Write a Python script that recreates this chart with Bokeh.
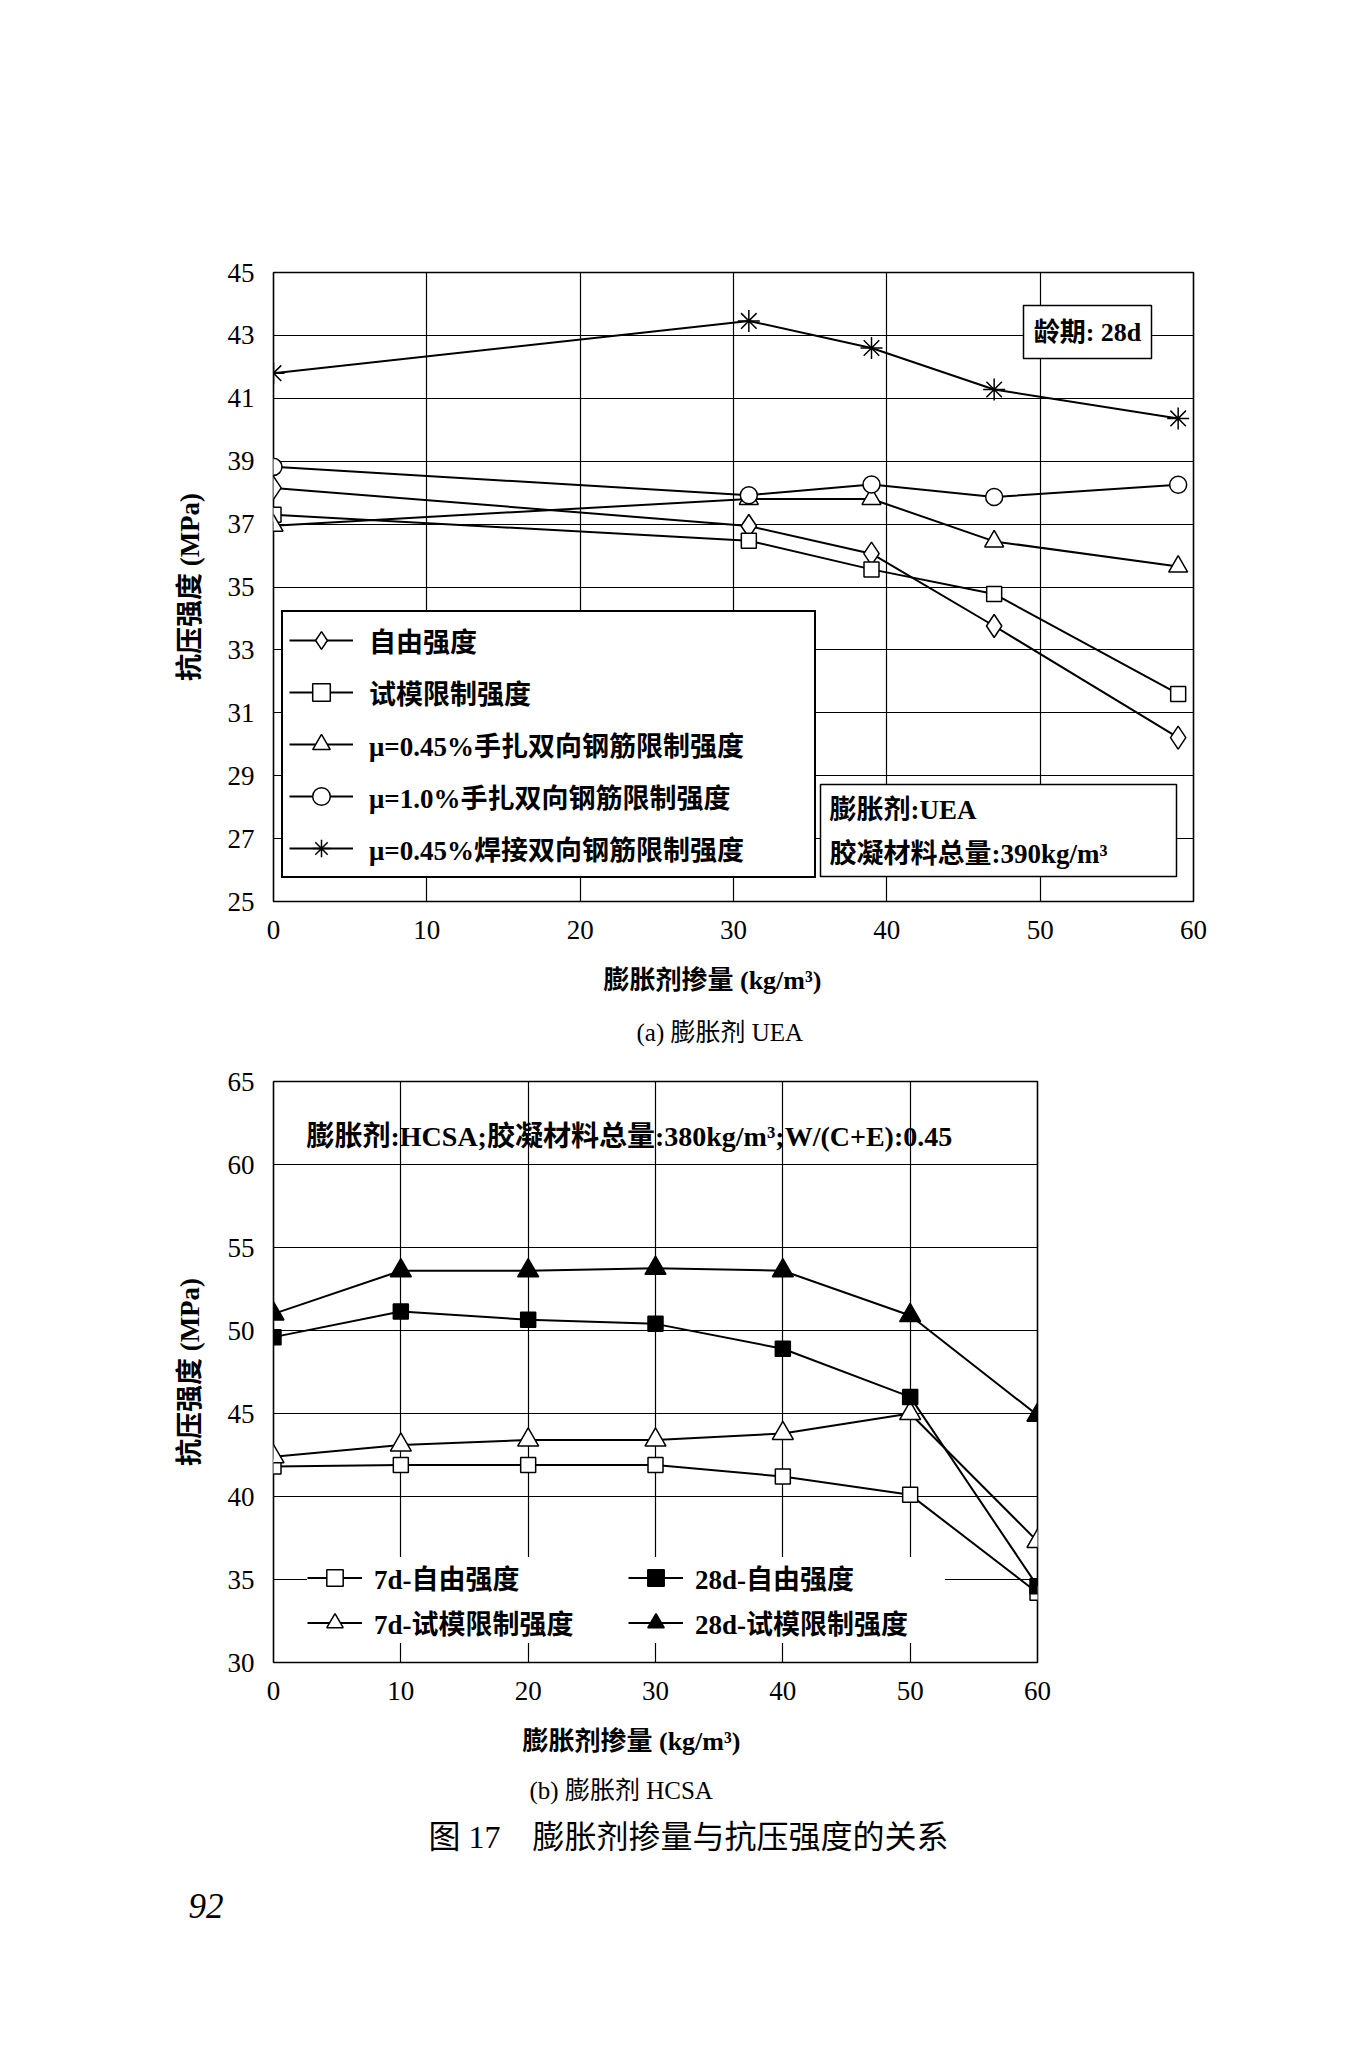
import math
from bokeh.plotting import figure
from bokeh.models import Legend, LegendItem, Label, BoxAnnotation, FixedTicker, Range1d, Title
from bokeh.layouts import column
from bokeh.embed import file_html
from bokeh.resources import INLINE

SERIF = "Liberation Serif"
MIX = "Liberation Serif, Noto Sans CJK SC"

# ---------------- data: (a) UEA ----------------
uea_x = [0, 31, 39, 47, 59]
uea_free = [38.15, 36.94, 36.06, 33.76, 30.21]
uea_mold = [37.3, 36.47, 35.56, 34.78, 31.6]
uea_tie045 = [36.95, 37.8, 37.8, 36.45, 35.65]
uea_tie10 = [38.82, 37.92, 38.26, 37.86, 38.25]
uea_weld045 = [41.8, 43.46, 42.6, 41.28, 40.36]
uea_labels = ["自由强度", "试模限制强度", "μ=0.45%手扎双向钢筋限制强度",
              "μ=1.0%手扎双向钢筋限制强度", "μ=0.45%焊接双向钢筋限制强度"]
uea_xticks = [0, 10, 20, 30, 40, 50, 60]
uea_yticks = [25, 27, 29, 31, 33, 35, 37, 39, 41, 43, 45]

# ---------------- data: (b) HCSA ----------------
hcsa_x = [0, 10, 20, 30, 40, 50, 60]
d7_free = [41.8, 41.9, 41.9, 41.9, 41.2, 40.1, 34.2]
d28_free = [49.6, 51.15, 50.65, 50.4, 48.9, 46.0, 34.6]
d7_mold = [42.4, 43.1, 43.4, 43.4, 43.8, 45.0, 37.3]
d28_mold = [51.0, 53.6, 53.6, 53.75, 53.6, 50.9, 44.9]
hcsa_labels = ["7d-自由强度", "7d-试模限制强度", "28d-自由强度", "28d-试模限制强度"]
hcsa_xticks = [0, 10, 20, 30, 40, 50, 60]
hcsa_yticks = [30, 35, 40, 45, 50, 55, 60, 65]


def style(p, xt, yt):
    p.outline_line_color = "black"
    p.outline_line_width = 1.6
    p.outline_line_alpha = 1.0
    p.background_fill_color = "white"
    p.border_fill_color = "white"
    for g in (p.xgrid, p.ygrid):
        g.grid_line_color = "black"
        g.grid_line_width = 1.2
        g.grid_line_alpha = 1.0
    p.xaxis.ticker = FixedTicker(ticks=xt)
    p.yaxis.ticker = FixedTicker(ticks=yt)
    for ax in (p.xaxis, p.yaxis):
        ax.axis_line_color = None
        ax.major_tick_line_color = None
        ax.minor_tick_line_color = None
        ax.major_label_text_font = SERIF
        ax.major_label_text_font_size = "27px"
        ax.major_label_text_color = "black"
        ax.axis_label_text_font = MIX
        ax.axis_label_text_font_size = "27px"
        ax.axis_label_text_font_style = "bold"
        ax.axis_label_text_color = "black"
    p.xaxis.major_label_standoff = 13
    p.yaxis.major_label_standoff = 13
    p.yaxis.axis_label = "抗压强度 (MPa)"
    p.yaxis.axis_label_standoff = 20


def lab(p, xy, text, size="27px", font=MIX, style_="bold", align="center",
        baseline="middle"):
    p.add_layout(Label(x=xy[0], y=xy[1], text=text, text_font=font,
                       text_font_size=size, text_font_style=style_,
                       text_align=align, text_baseline=baseline,
                       text_color="black"))


def below_title(p, text, size, style_, standoff, offset, font=MIX):
    p.add_layout(Title(text=text, align="left", offset=offset, standoff=standoff,
                       text_font=font, text_font_size=size, text_font_style=style_,
                       text_color="black"), "below")


def box(p, l, t, r, b, lw):
    p.add_layout(BoxAnnotation(left=l, right=r, top=t, bottom=b, fill_color="white",
                               fill_alpha=1.0, line_color="black", line_alpha=1.0,
                               line_width=lw))


# ================= figure (a) =================
p1 = figure(width=1357, height=1058, frame_width=920, frame_height=629,
            min_border_left=273, min_border_right=164, min_border_top=272,
            min_border_bottom=157, x_range=Range1d(0, 60), y_range=Range1d(25, 45),
            output_backend="svg", toolbar_location=None)
style(p1, uea_xticks, uea_yticks)


def t_xy(px, py):
    return ((px - 273) / 920 * 60, 45 - (py - 272) / 629 * 20)


series_a = [
    (uea_free, "diamond", "white", 23),
    (uea_mold, "square", "white", 15),
    (uea_tie045, "triangle", "white", 19),
    (uea_tie10, "circle", "white", 17),
    (uea_weld045, "asterisk", "white", 22),
]
items_a = []
for (ys, mk, fc, sz), lbl in zip(series_a, uea_labels):
    rl = p1.line(uea_x, ys, line_color="black", line_width=2)
    rs = p1.scatter(uea_x, ys, marker=mk, size=sz, line_color="black",
                    fill_color=fc, line_width=1.5)
    items_a.append(LegendItem(label=lbl, renderers=[rl, rs]))

leg_a = Legend(items=items_a, location=(8, 23), margin=0, padding=6, spacing=8,
               glyph_width=64, glyph_height=44, label_height=44, label_width=439,
               label_standoff=16, border_line_color="black", border_line_width=2.5,
               border_line_alpha=1.0,
               background_fill_color="white", background_fill_alpha=1.0,
               label_text_font=MIX, label_text_font_size="27px",
               label_text_font_style="bold", label_text_color="black")
p1.add_layout(leg_a)

# 龄期 box
l, t = t_xy(1023, 305)
r, b = t_xy(1151, 358)
box(p1, l, t, r, b, 1.5)
lab(p1, t_xy(1087, 332), "龄期: 28d", size="26px")

# UEA box
l, t = t_xy(820, 784)
r, b = t_xy(1176, 876)
box(p1, l, t, r, b, 1.5)
lab(p1, t_xy(829, 809), "膨胀剂:UEA", align="left")
lab(p1, t_xy(829, 853), "胶凝材料总量:390kg/m³", align="left")

below_title(p1, "膨胀剂掺量 (kg/m³)", "26px", "bold", 44, offset=330)
below_title(p1, "(a) 膨胀剂 UEA", "25px", "normal", 0, offset=363)

# ================= figure (b) =================
p2 = figure(width=1357, height=982, frame_width=764, frame_height=581,
            min_border_left=273, min_border_right=320, min_border_top=23,
            min_border_bottom=378, x_range=Range1d(0, 60), y_range=Range1d(30, 65),
            output_backend="svg", toolbar_location=None)
style(p2, hcsa_xticks, hcsa_yticks)


def b_xy(px, py):
    return ((px - 273) / 764 * 60, 65 - (py - 1081) / 581 * 35)


series_b = [
    (d7_free, "square", "white", 15),
    (d7_mold, "triangle", "white", 21),
    (d28_free, "square", "black", 15),
    (d28_mold, "triangle", "black", 21),
]
items_b = []
for (ys, mk, fc, sz), lbl in zip(series_b, hcsa_labels):
    rl = p2.line(hcsa_x, ys, line_color="black", line_width=2)
    rs = p2.scatter(hcsa_x, ys, marker=mk, size=sz, line_color="black",
                    fill_color=fc, line_width=1.5)
    items_b.append(LegendItem(label=lbl, renderers=[rl, rs]))

leg_b = Legend(items=items_b, location=(34, 19), margin=0, padding=4, spacing=4,
               nrows=2, glyph_width=55, glyph_height=41, label_height=41,
               label_width=250, label_standoff=12, border_line_color=None,
               background_fill_color="white", background_fill_alpha=1.0,
               label_text_font=MIX, label_text_font_size="27px",
               label_text_font_style="bold", label_text_color="black")
p2.add_layout(leg_b)

lab(p2, b_xy(306, 1136), "膨胀剂:HCSA;胶凝材料总量:380kg/m³;W/(C+E):0.45", align="left",
    size="28px")

below_title(p2, "膨胀剂掺量 (kg/m³)", "26px", "bold", 45, offset=249)
below_title(p2, "(b) 膨胀剂 HCSA", "25px", "normal", -8, offset=256)
below_title(p2, "图 17\u00a0\u00a0\u00a0\u00a0膨胀剂掺量与抗压强度的关系", "32px", "normal", 34,
            offset=155)
below_title(p2, "92", "35px", "italic", 41, offset=-85, font=SERIF)

layout = column(p1, p2, spacing=0)
open("out.html", "w").write(file_html(layout, INLINE))
